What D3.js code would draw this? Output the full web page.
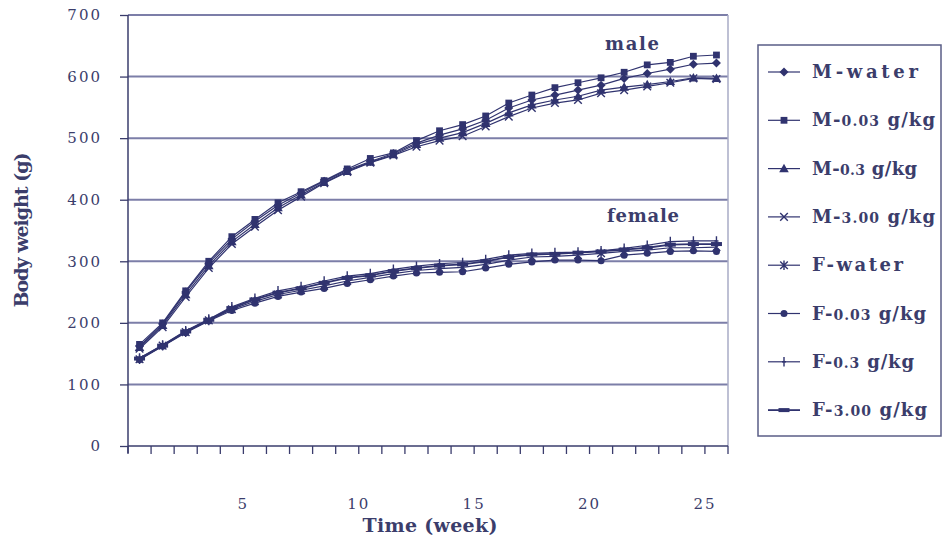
<!DOCTYPE html>
<html>
<head>
<meta charset="utf-8">
<script src="https://cdn.jsdelivr.net/npm/d3@7/dist/d3.min.js"></script>
<style>
  html, body { margin: 0; padding: 0; background: #ffffff; }
  svg { display: block; }
  text { font-family: "DejaVu Serif", "Liberation Serif", serif; fill: #3b3d6b; }
</style>
</head>
<body>
<svg id="chart" width="943" height="543"></svg>
<script>
// Weekly body weights (g) of rats, by sex and dose group
const weeks = [0, 1, 2, 3, 4, 5, 6, 7, 8, 9, 10, 11, 12, 13, 14, 15, 16, 17, 18, 19, 20, 21, 22, 23, 24, 25];

const mWater = [162, 198, 250, 297, 336, 365, 391, 411, 430, 448, 462, 475, 492, 505, 515, 529, 549, 562, 570, 578, 586, 597, 605, 612, 620, 622];
const m003   = [165, 200, 252, 300, 340, 368, 395, 413, 431, 450, 467, 476, 496, 512, 522, 536, 557, 570, 582, 590, 598, 607, 619, 623, 633, 635];
const m03    = [160, 196, 246, 293, 332, 360, 387, 408, 428, 446, 461, 473, 490, 500, 509, 524, 541, 554, 562, 568, 578, 583, 587, 592, 598, 597];
const m300   = [158, 193, 242, 289, 328, 356, 383, 405, 427, 445, 460, 472, 486, 496, 503, 519, 535, 549, 557, 562, 573, 578, 584, 590, 597, 596];

const fWater = [141, 163, 185, 204, 222, 235, 246, 253, 260, 268, 274, 280, 285, 288, 290, 295, 302, 307, 308, 310, 313, 316, 318, 322, 322, 323];
const f003   = [140, 162, 184, 203, 220, 232, 243, 250, 256, 264, 270, 276, 281, 282, 283, 289, 295, 299, 302, 302, 301, 310, 313, 316, 317, 316];
const f03    = [143, 164, 187, 206, 226, 240, 252, 259, 268, 276, 280, 287, 292, 296, 298, 303, 310, 313, 314, 315, 317, 321, 326, 332, 333, 333];
const f300   = [142, 163, 186, 205, 224, 238, 249, 256, 265, 273, 277, 284, 289, 293, 295, 300, 307, 311, 312, 314, 316, 319, 322, 327, 328, 328];

const seriesNames = ["M-water", "M-0.03 g/kg", "M-0.3 g/kg", "M-3.00 g/kg", "F-water", "F-0.03 g/kg", "F-0.3 g/kg", "F-3.00 g/kg"];
const seriesValues = [mWater, m003, m03, m300, fWater, f003, f03, f300];
const seriesMarkers = ["diamond", "square", "triangle", "cross", "asterisk", "circle", "plus", "bar"];

const yTicks = [0, 100, 200, 300, 400, 500, 600, 700];
const xLabels = [5, 10, 15, 20, 25];

const ink = "#30336f";
const gridColor = "#7c7ea8";
const axisColor = "#3a3c6c";

const svg = d3.select("#chart");
const plot = { left: 128, right: 728, top: 15, bottom: 446 };

const x = d3.scaleBand().domain(weeks).range([plot.left, plot.right]);
const y = d3.scaleLinear().domain([0, 700]).range([plot.bottom, plot.top]);
const cx = w => x(w) + x.bandwidth() / 2;

// horizontal gridlines
svg.append("g").selectAll("line")
  .data(yTicks.filter(v => v > 0))
  .join("line")
  .attr("x1", plot.left).attr("x2", plot.right)
  .attr("y1", d => y(d)).attr("y2", d => y(d))
  .attr("stroke", gridColor).attr("stroke-width", 2);

// right frame
svg.append("line")
  .attr("x1", plot.right).attr("x2", plot.right)
  .attr("y1", plot.top).attr("y2", plot.bottom)
  .attr("stroke", "#a9abc6").attr("stroke-width", 1.5);

// y axis
const yAxis = d3.axisLeft(y).tickValues(yTicks).tickSize(8).tickPadding(18).tickFormat(d3.format("d"));
const gy = svg.append("g").attr("transform", `translate(${plot.left},0)`).call(yAxis);
gy.select(".domain").attr("stroke", axisColor).attr("stroke-width", 1.5).attr("d", `M0,${plot.top}V${plot.bottom + 7}`);
gy.selectAll(".tick line").attr("stroke", axisColor).attr("stroke-width", 1.3);
gy.selectAll(".tick text")
  .attr("font-size", 15).attr("fill", "#3b3d6b")
  .style("letter-spacing", "2px")
  .attr("font-family", "DejaVu Serif, serif");

// x axis: tick at every category boundary, labels every five weeks
const edges = weeks.map(w => x(w)).concat([plot.right]);
const gx = svg.append("g");
gx.append("line")
  .attr("x1", plot.left).attr("x2", plot.right)
  .attr("y1", plot.bottom).attr("y2", plot.bottom)
  .attr("stroke", axisColor).attr("stroke-width", 1.5);
gx.selectAll("line.tk").data(edges).join("line").attr("class", "tk")
  .attr("x1", d => d).attr("x2", d => d)
  .attr("y1", plot.bottom).attr("y2", plot.bottom + 8)
  .attr("stroke", axisColor).attr("stroke-width", 1.3);
gx.selectAll("text").data(xLabels).join("text")
  .attr("x", d => x(d)).attr("y", 509)
  .attr("text-anchor", "middle")
  .attr("font-size", 15)
  .style("letter-spacing", "2px")
  .text(d => d);

// axis titles
svg.append("text")
  .attr("transform", "translate(28,230) rotate(-90)")
  .attr("text-anchor", "middle")
  .attr("font-size", 19).attr("font-weight", "bold")
  .attr("textLength", 155).attr("lengthAdjust", "spacing")
  .text("Body weight (g)");
svg.append("text")
  .attr("x", 430).attr("y", 532)
  .attr("text-anchor", "middle")
  .attr("font-size", 19).attr("font-weight", "bold")
  .attr("textLength", 135).attr("lengthAdjust", "spacing")
  .text("Time (week)");

// group labels
svg.append("text").attr("x", 605).attr("y", 50)
  .attr("font-size", 18).attr("font-weight", "bold")
  .attr("textLength", 54).attr("lengthAdjust", "spacing")
  .text("male");
svg.append("text").attr("x", 607).attr("y", 222)
  .attr("font-size", 18).attr("font-weight", "bold")
  .attr("textLength", 72).attr("lengthAdjust", "spacing")
  .text("female");

// marker drawing
function drawMarker(g, kind) {
  switch (kind) {
    case "diamond":
      g.append("path").attr("d", "M0,-4.5L4.5,0L0,4.5L-4.5,0Z").attr("fill", ink); break;
    case "square":
      g.append("rect").attr("x", -3.4).attr("y", -3.4).attr("width", 6.8).attr("height", 6.8).attr("fill", ink); break;
    case "triangle":
      g.append("path").attr("d", "M0,-4.8L4.8,3.6L-4.8,3.6Z").attr("fill", ink); break;
    case "cross":
      g.append("path").attr("d", "M-3.8,-3.8L3.8,3.8M-3.8,3.8L3.8,-3.8")
        .attr("stroke", ink).attr("stroke-width", 1.4).attr("fill", "none"); break;
    case "asterisk":
      g.append("path").attr("d", "M-3.8,-3.8L3.8,3.8M-3.8,3.8L3.8,-3.8M0,-4.8V4.8")
        .attr("stroke", ink).attr("stroke-width", 1.4).attr("fill", "none"); break;
    case "circle":
      g.append("circle").attr("r", 3.5).attr("fill", ink); break;
    case "plus":
      g.append("path").attr("d", "M0,-4.8V4.8M-2,0H2")
        .attr("stroke", ink).attr("stroke-width", 1.4).attr("fill", "none"); break;
    case "bar":
      g.append("rect").attr("x", -5.5).attr("y", -2).attr("width", 11).attr("height", 4).attr("fill", ink); break;
  }
}

const line = d3.line().x((d, i) => cx(weeks[i])).y(d => y(d));

seriesValues.forEach((vals, si) => {
  const g = svg.append("g");
  g.append("path").datum(vals)
    .attr("d", line)
    .attr("fill", "none")
    .attr("stroke", ink)
    .attr("stroke-width", seriesMarkers[si] === "bar" ? 1.8 : 1.2);
  vals.forEach((v, i) => {
    const m = g.append("g").attr("transform", `translate(${cx(weeks[i])},${y(v)})`);
    drawMarker(m, seriesMarkers[si]);
  });
});

// legend
const legend = svg.append("g");
legend.append("rect")
  .attr("x", 758).attr("y", 45).attr("width", 183).attr("height", 391)
  .attr("fill", "none").attr("stroke", "#5a5d86").attr("stroke-width", 1.5);

const legendWidths = [106, 123, 105, 123, 91, 114, 102, 115];
seriesNames.forEach((name, i) => {
  const ly = 72 + i * 48.3;
  const row = legend.append("g");
  row.append("line").attr("x1", 768).attr("x2", 800).attr("y1", ly).attr("y2", ly)
    .attr("stroke", ink).attr("stroke-width", seriesMarkers[i] === "bar" ? 1.8 : 1.2);
  drawMarker(row.append("g").attr("transform", `translate(784,${ly})`), seriesMarkers[i]);
  const t = row.append("text").attr("x", 812).attr("y", ly + 6)
    .attr("font-size", 18).attr("font-weight", "bold")
    .attr("textLength", legendWidths[i]).attr("lengthAdjust", "spacing");
  const parts = name.match(/^([MF]-)([0-9.]*)(.*)$/);
  t.append("tspan").text(parts[1]);
  if (parts[2]) t.append("tspan").attr("font-size", 14).text(parts[2]);
  t.append("tspan").text(parts[3]);
});
</script>
</body>
</html>
